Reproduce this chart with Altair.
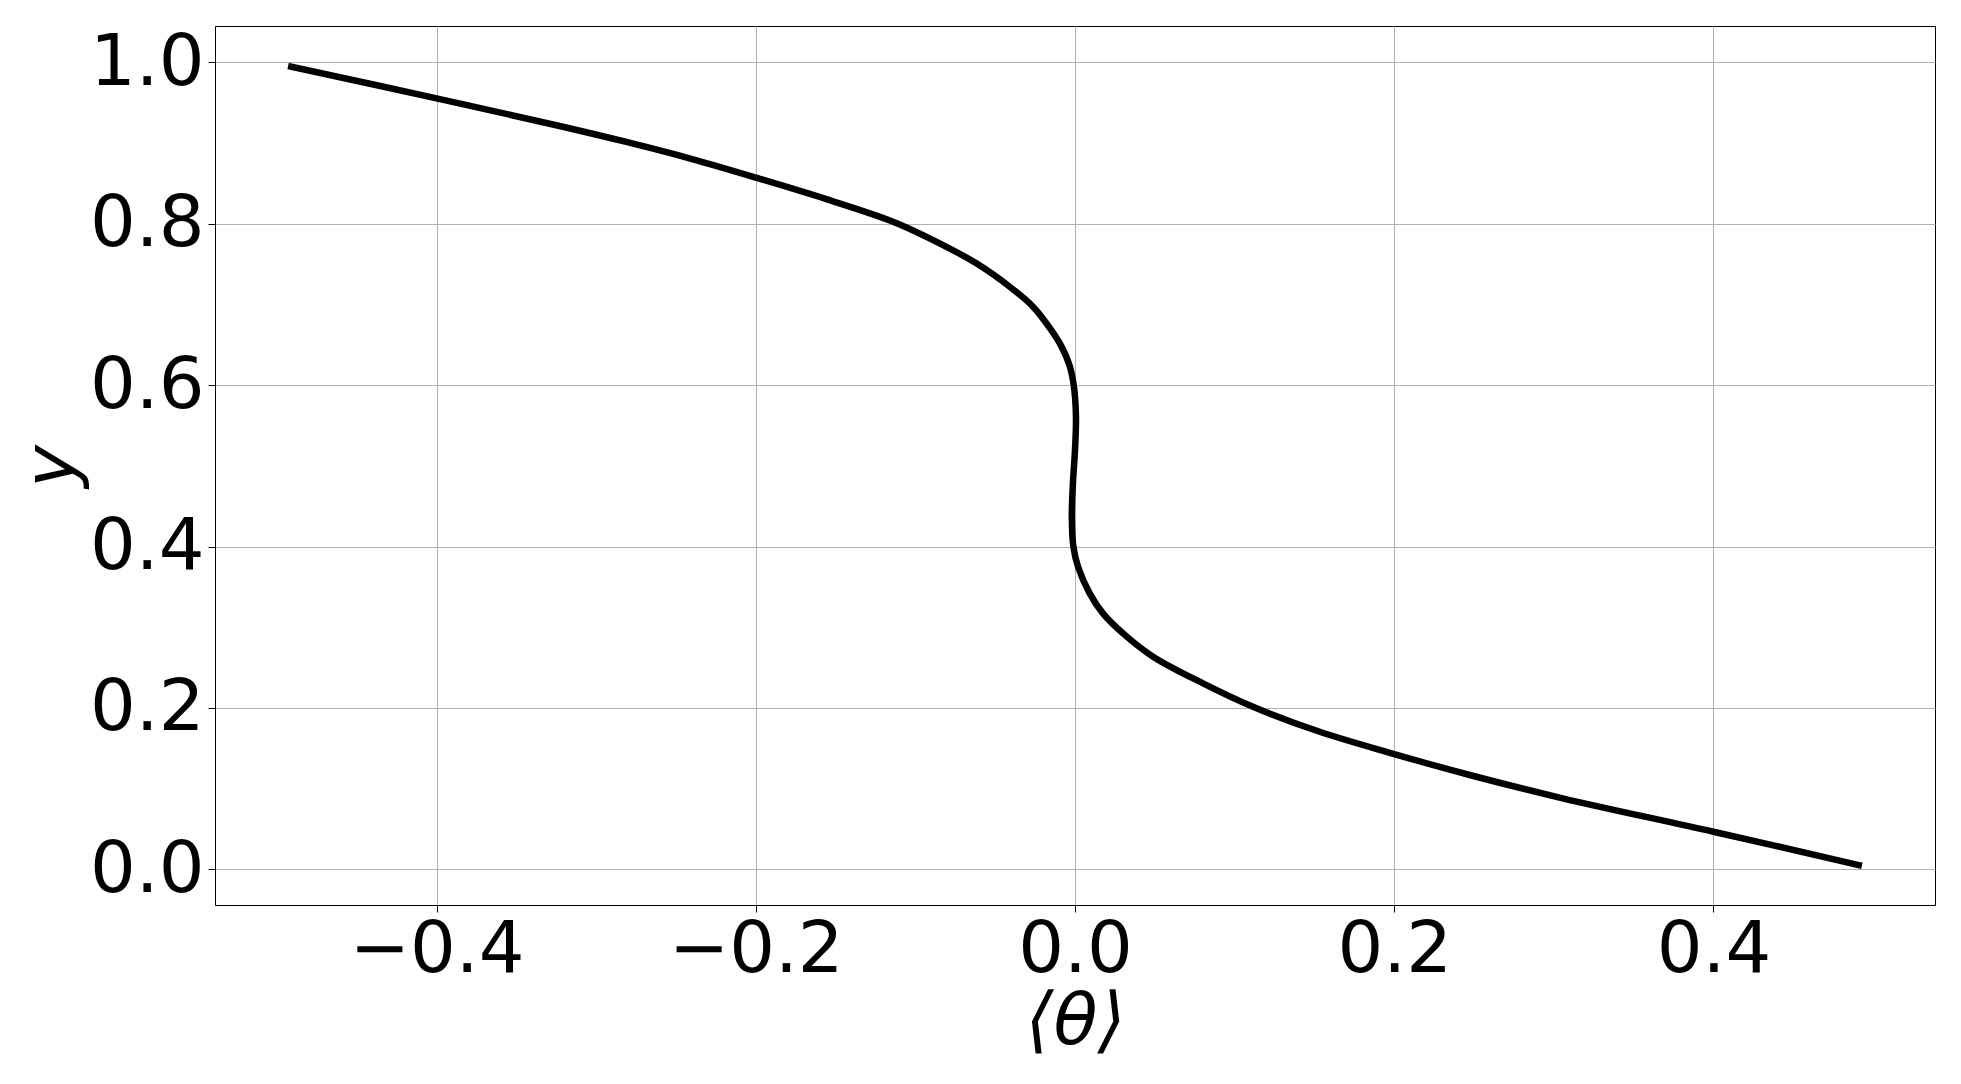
import altair as alt
import pandas as pd

# curve, ordered along the path (top-left to bottom-right)
theta = [-0.491, -0.400, -0.3229, -0.2811, -0.2393, -0.2005, -0.1558, -0.1140,
         -0.0827, -0.0618, -0.0409, -0.0263, -0.0155, -0.0085, -0.0035, -0.0008,
         0.0006, 0.0000, -0.0013, -0.0020, -0.0010, 0.0019, 0.0092, 0.0175,
         0.0301, 0.0489, 0.0802, 0.1115, 0.1533, 0.2000, 0.2473, 0.3055,
         0.4000, 0.491]
y_vals = [0.9946, 0.9554, 0.9211, 0.9013, 0.8798, 0.8575, 0.8305, 0.8025,
          0.7736, 0.7509, 0.7219, 0.6972, 0.6700, 0.6480, 0.6250, 0.6000,
          0.5610, 0.5196, 0.4783, 0.4370, 0.3998, 0.3750, 0.3420, 0.3172,
          0.2924, 0.2635, 0.2305, 0.2015, 0.1705, 0.1429, 0.1169, 0.0880,
          0.0466, 0.0053]

x_ticks = [-0.4, -0.2, 0.0, 0.2, 0.4]
y_ticks = [0.0, 0.2, 0.4, 0.6, 0.8, 1.0]

df = pd.DataFrame({"theta": theta, "y": y_vals, "idx": list(range(len(theta)))})

FONT = "DejaVu Sans"

chart = alt.Chart(df).mark_line(
    color="black", strokeWidth=6.5, interpolate="catmull-rom", strokeCap="square"
).encode(
    x=alt.X(
        "theta:Q",
        scale=alt.Scale(domain=[-0.5388, 0.5388], nice=False, zero=False),
        axis=alt.Axis(
            values=x_ticks, format=".1f", title="⟨θ⟩",
            titleFontStyle="italic", titleFontWeight="normal",
            titleFontSize=72, titleFont=FONT, titleColor="black",
            titleBaseline="alphabetic", titleAlign="center",
            titleX=860, titleY=138,
            labelFontSize=72, labelFont=FONT, labelColor="black",
            labelPadding=2, tickSize=7, tickColor="black", tickWidth=1,
            grid=True, gridColor="#b0b0b0", gridWidth=1, domain=False,
            labelFlush=False, labelOverlap=False,
        ),
    ),
    y=alt.Y(
        "y:Q",
        scale=alt.Scale(domain=[-0.0442, 1.045], nice=False, zero=False),
        axis=alt.Axis(
            values=y_ticks, format=".1f", title="y",
            titleFontStyle="italic", titleFontWeight="normal",
            titleFontSize=72, titleFont=FONT, titleColor="black",
            titleAngle=270, titleBaseline="alphabetic", titleAlign="center",
            titleX=-142, titleY=440,
            labelFontSize=72, labelFont=FONT, labelColor="black",
            labelPadding=4, tickSize=7, tickColor="black", tickWidth=1,
            grid=True, gridColor="#b0b0b0", gridWidth=1, domain=False,
            labelFlush=False, labelOverlap=False,
        ),
    ),
    order="idx:Q",
).properties(
    width=1720,
    height=879,
    autosize=alt.AutoSizeParams(type="none"),
    padding={"left": 207, "top": 18, "right": 18, "bottom": 165},
    background="white",
).configure_view(
    stroke="black", strokeWidth=1
)

chart.save("out.html", embed_options={"renderer": "svg", "actions": False})
